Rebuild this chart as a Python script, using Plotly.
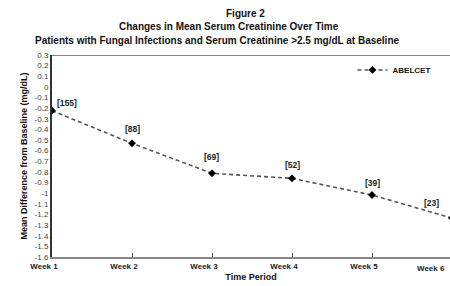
import plotly.graph_objects as go

weeks = ["Week 1", "Week 2", "Week 3", "Week 4", "Week 5", "Week 6"]
mean_diff = [-0.224, -0.531, -0.813, -0.860, -1.017, -1.234]
n_labels = ["[155]", "[88]", "[69]", "[52]", "[39]", "[23]"]
y_tickvals = [0.3, 0.2, 0.1, 0, -0.1, -0.2, -0.3, -0.4, -0.5, -0.6, -0.7, -0.8, -0.9, -1.0,
              -1.1, -1.2, -1.3, -1.4, -1.5, -1.6]
y_ticktext = ["0.3", "0.2", "0.1", "0", "-0.1", "-0.2", "-0.3", "-0.4", "-0.5", "-0.6", "-0.7",
              "-0.8", "-0.9", "-1", "-1.1", "-1.2", "-1.3", "-1.4", "-1.5", "-1.6"]
title_lines = ["Figure 2", "Changes in Mean Serum Creatinine Over Time",
               "Patients with Fungal Infections and Serum Creatinine >2.5 mg/dL at Baseline"]

FONT = "Liberation Sans, Arial, sans-serif"

fig = go.Figure()
fig.add_trace(go.Scatter(
    x=weeks, y=mean_diff, mode="lines+markers", name="<b>ABELCET</b>",
    line=dict(color="#555555", width=1.6, dash="4px,3px"),
    marker=dict(symbol="diamond", size=6, color="black"),
))

# label offsets (px) relative to each point (last one sits beyond the visible range)
shifts = [(15, 8), (0, 14), (-1, 16), (0, 13), (0, 12)]
for w, v, t, (dx, dy) in zip(weeks[:-1], mean_diff[:-1], n_labels[:-1], shifts):
    fig.add_annotation(x=w, y=v, text="<b>" + t + "</b>", showarrow=False,
                       xshift=dx, yshift=dy, font=dict(family=FONT, size=8.5, color="#222"))
fig.add_annotation(xref="paper", x=1, y=mean_diff[-1], text="<b>" + n_labels[-1] + "</b>",
                   showarrow=False, xshift=-9, yshift=15,
                   font=dict(family=FONT, size=8.5, color="#222"))

# Title lines (each centred as in the original)
for txt, xc, yc in zip(title_lines, [0.485, 0.445, 0.415], [1.203, 1.139, 1.074]):
    fig.add_annotation(xref="paper", yref="paper", x=xc, y=yc, text="<b>" + txt + "</b>",
                       showarrow=False, xanchor="center", yanchor="middle",
                       font=dict(family=FONT, size=10, color="#111"))

# Week 6 tick label (its tick lies just beyond the right edge)
fig.add_annotation(xref="paper", yref="paper", x=0.992, y=0, yshift=-11, text=weeks[-1],
                   showarrow=False, xanchor="right", yanchor="middle",
                   font=dict(family=FONT, size=8, color="#222", weight="bold"))

fig.add_shape(type="line", xref="paper", yref="y", x0=0, x1=1, y0=0.3, y1=0.3,
              line=dict(color="#888888", width=2))

fig.update_layout(
    width=450, height=286,
    margin=dict(l=52, r=0, t=55, b=29),
    paper_bgcolor="white", plot_bgcolor="white",
    font=dict(family=FONT, color="#222"),
    showlegend=True,
    legend=dict(x=0.755, y=0.926, xanchor="left", yanchor="middle", bgcolor="rgba(0,0,0,0)",
                font=dict(family=FONT, size=8, color="#111")),
    xaxis=dict(
        type="category", range=[0, 4.975], showgrid=False, zeroline=False,
        showline=True, linecolor="#888888", linewidth=2,
        ticks="inside", ticklen=4, tickcolor="#555", ticklabelshift=-8,
        tickfont=dict(family=FONT, size=8, color="#222", weight="bold"),
        title=dict(text="<b>Time Period</b>", font=dict(family=FONT, size=9, color="#111"), standoff=4),
    ),
    yaxis=dict(
        range=[-1.6, 0.3], tickvals=y_tickvals, ticktext=y_ticktext,
        showgrid=False, zeroline=False, showline=True, linecolor="#333333", linewidth=2,
        ticks="", tickfont=dict(family=FONT, size=8, color="#444"),
        title=dict(text="<b>Mean Difference from Baseline (mg/dL)</b>",
                   font=dict(family=FONT, size=9, color="#111"), standoff=5),
    ),
)

fig.write_html("out.html", config={"displayModeBar": False},
               post_script="document.body.style.margin='0';")
